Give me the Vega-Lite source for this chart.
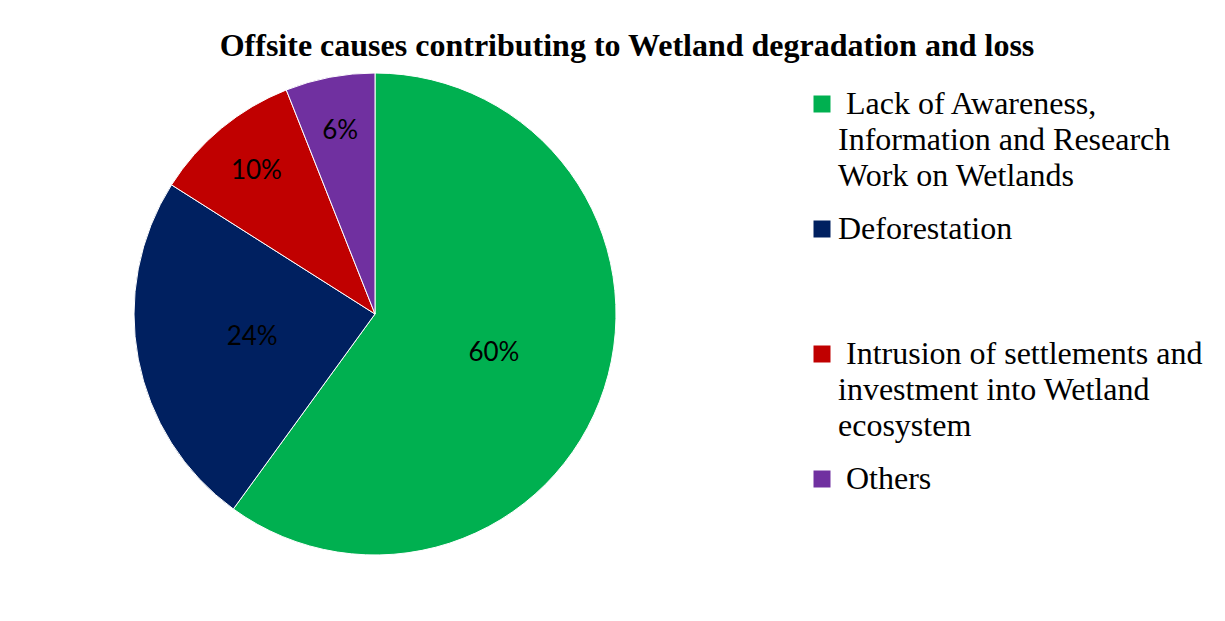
{
  "$schema": "https://vega.github.io/schema/vega-lite/v6.json",
  "width": 750,
  "height": 482,
  "autosize": "none",
  "padding": {"left": 0, "top": 73, "right": 475, "bottom": 66},
  "background": "white",
  "config": {
    "view": {"stroke": null},
    "style": {"guide-label": {"lineHeight": 36, "dy": 10}}
  },
  "title": {
    "text": "Offsite causes contributing to Wetland degradation and loss",
    "font": "Liberation Serif",
    "fontSize": 32,
    "fontWeight": "bold",
    "color": "black",
    "anchor": "middle",
    "frame": "group",
    "dx": 252,
    "dy": 34,
    "offset": 17,
    "baseline": "alphabetic"
  },
  "data": {
    "values": [
      {"cause": "Lack of Awareness, Information and Research Work on Wetlands", "share": 0.60},
      {"cause": "Deforestation", "share": 0.24},
      {"cause": "Intrusion of settlements and investment into Wetland ecosystem", "share": 0.10},
      {"cause": "Others", "share": 0.06}
    ]
  },
  "encoding": {
    "theta": {"field": "share", "type": "quantitative", "stack": true},
    "order": {"field": "share", "sort": "descending"},
    "color": {
      "field": "cause",
      "type": "nominal",
      "scale": {
        "domain": [
          "Lack of Awareness, Information and Research Work on Wetlands",
          "Deforestation",
          "Intrusion of settlements and investment into Wetland ecosystem",
          "Others"
        ],
        "range": ["#00B050", "#002060", "#C00000", "#7030A0"]
      },
      "legend": {
        "orient": "none",
        "legendX": 806,
        "legendY": 15,
        "title": null,
        "padding": 0,
        "symbolType": "square",
        "symbolSize": 289,
        "symbolStrokeWidth": 0,
        "symbolOpacity": 1,
        "labelFont": "Liberation Serif",
        "labelFontSize": 32,
        "labelColor": "black",
        "labelLimit": 0,
        "labelBaseline": "alphabetic",
        "labelOffset": 0,
        "gridAlign": "all",
        "rowPadding": 21,
        "labelExpr": "datum.value == 'Others' ? '\u200b\u00a0Others' : datum.value == 'Deforestation' ? 'Deforestation' : indexof(datum.value, 'Lack') == 0 ? ['\u200b\u00a0Lack of Awareness,', 'Information and Research', 'Work on Wetlands'] : ['\u200b\u00a0Intrusion of settlements and', 'investment into Wetland', 'ecosystem']"
      }
    }
  },
  "layer": [
    {"mark": {"type": "arc", "outerRadius": 241, "stroke": "white", "strokeWidth": 1}},
    {
      "mark": {"type": "text", "radius": {"expr": "datum.share >= 0.2 ? 125 : 186"}, "font": "Lato", "fontSize": 26},
      "encoding": {
        "text": {"field": "share", "type": "quantitative", "format": ".0%"},
        "color": {"value": "black"}
      }
    }
  ]
}
